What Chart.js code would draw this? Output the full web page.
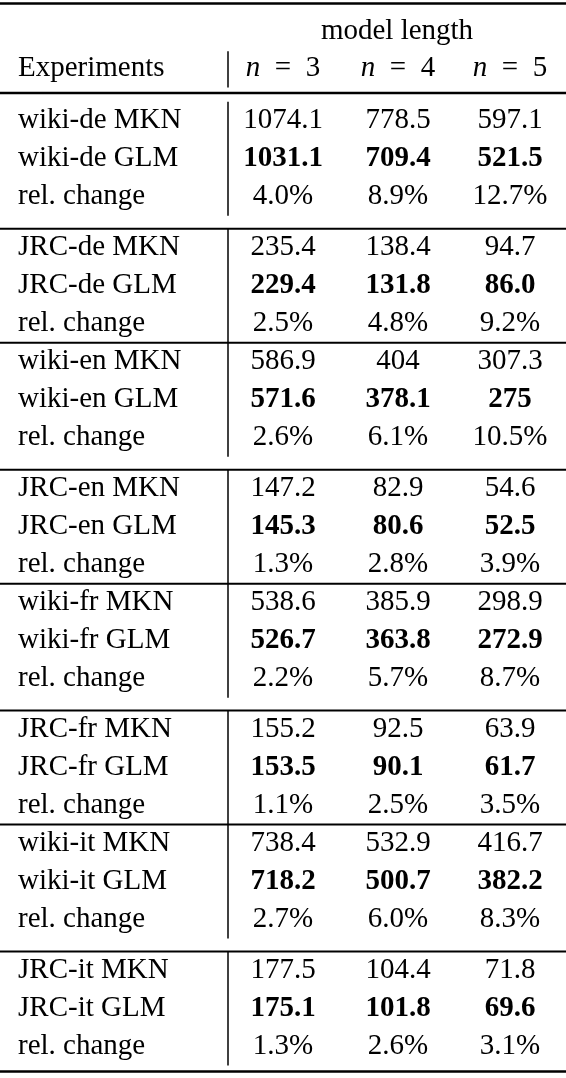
<!DOCTYPE html>
<html><head><meta charset="utf-8">
<script src="https://cdn.jsdelivr.net/npm/chart.js@4"></script>
<style>html,body{margin:0;padding:0;background:#fff}#w{width:566px;height:1078px}</style>
</head><body><div id="w"><canvas id="c"></canvas></div>
<script>
const columns = ['n = 3', 'n = 4', 'n = 5'];
const experiments = ['wiki-de', 'JRC-de', 'wiki-en', 'JRC-en', 'wiki-fr', 'JRC-fr', 'wiki-it', 'JRC-it'];
const mknValues = [
  ['1074.1','778.5','597.1'], ['235.4','138.4','94.7'], ['586.9','404','307.3'], ['147.2','82.9','54.6'],
  ['538.6','385.9','298.9'], ['155.2','92.5','63.9'], ['738.4','532.9','416.7'], ['177.5','104.4','71.8']];
const glmValues = [
  ['1031.1','709.4','521.5'], ['229.4','131.8','86.0'], ['571.6','378.1','275'], ['145.3','80.6','52.5'],
  ['526.7','363.8','272.9'], ['153.5','90.1','61.7'], ['718.2','500.7','382.2'], ['175.1','101.8','69.6']];
const relChange = [
  ['4.0%','8.9%','12.7%'], ['2.5%','4.8%','9.2%'], ['2.6%','6.1%','10.5%'], ['1.3%','2.8%','3.9%'],
  ['2.2%','5.7%','8.7%'], ['1.1%','2.5%','3.5%'], ['2.7%','6.0%','8.3%'], ['1.3%','2.6%','3.1%']];

const colX = [18, 283, 398, 510];
const groupStart = [];
let g = 3.18;
experiments.forEach((e, i) => { groupStart.push(g); g += (i % 2 === 0) ? 3.34 : 3.0; });

const cells = [];
const pts = [];
experiments.forEach((e, i) => {
  const rows = [[e + ' MKN', mknValues[i], false], [e + ' GLM', glmValues[i], true], ['rel. change', relChange[i], false]];
  rows.forEach((r, k) => {
    const y = groupStart[i] + k;
    cells.push({x: colX[0], y, text: r[0], align: 'left', bold: false});
    r[1].forEach((v, j) => { cells.push({x: colX[j + 1], y, text: v, align: 'center', bold: r[2]}); pts.push({x: colX[j + 1], y}); });
  });
});

const FS = 29;
const tablePlugin = {
  id: 'table',
  afterDraw(chart) {
    const ctx = chart.ctx, xs = chart.scales.x, ys = chart.scales.y;
    const X = v => xs.getPixelForValue(v), Y = v => ys.getPixelForValue(v);
    ctx.save();
    ctx.fillStyle = '#000'; ctx.strokeStyle = '#000';
    ctx.textBaseline = 'middle';
    const font = b => (b ? 'bold ' : '') + FS + 'px "Liberation Serif", "Times New Roman", serif';
    const ifont = 'italic ' + FS + 'px "Liberation Serif", serif';
    ctx.font = font(false); ctx.textAlign = 'center';
    ctx.fillText('model length', X(397), Y(0.82));
    ctx.textAlign = 'left';
    ctx.fillText('Experiments', X(18), Y(1.8));
    columns.forEach((c, j) => {
      const rest = c.slice(1).replace(/ /g, '\u2002');
      ctx.font = ifont;
      const w1 = ctx.measureText('n').width;
      ctx.font = font(false);
      const w2 = ctx.measureText(rest).width;
      const x0 = X(colX[j + 1]) - (w1 + w2) / 2;
      ctx.font = ifont;
      ctx.fillText('n', x0, Y(1.8));
      ctx.font = font(false);
      ctx.fillText(rest, x0 + w1, Y(1.8));
    });
    cells.forEach(c => {
      ctx.font = font(c.bold); ctx.textAlign = c.align;
      ctx.fillText(c.text, X(c.x), Y(c.y));
    });
    const hline = (y, lw) => { ctx.lineWidth = lw; ctx.beginPath(); ctx.moveTo(X(0), Y(y)); ctx.lineTo(X(566), Y(y)); ctx.stroke(); };
    hline(0.09, 2.5);
    hline(2.45, 2.5);
    experiments.forEach((e, i) => {
      const last = groupStart[i] + 2;
      if (i < experiments.length - 1) hline(i % 2 === 0 ? last + 0.84 : last + 0.5, 2);
    });
    hline(28.2, 2.5);
    ctx.lineWidth = 1.5;
    const vline = (a, b) => { ctx.beginPath(); ctx.moveTo(X(228), Y(a)); ctx.lineTo(X(228), Y(b)); ctx.stroke(); };
    vline(1.35, 2.3);
    experiments.forEach((e, i) => vline(groupStart[i] - 0.5, groupStart[i] + 2.5));
    ctx.restore();
  }
};

new Chart(document.getElementById('c'), {
  type: 'scatter',
  data: { datasets: [{ data: pts, pointRadius: 0, pointHoverRadius: 0, showLine: false }] },
  options: {
    responsive: true, maintainAspectRatio: false, animation: false,
    layout: { padding: 0 },
    plugins: { legend: { display: false }, tooltip: { enabled: false } },
    scales: {
      x: { type: 'linear', min: 0, max: 566, display: false },
      y: { type: 'linear', min: 0, max: 1078 / 38, reverse: true, display: false }
    }
  },
  plugins: [tablePlugin]
});
</script></body></html>
